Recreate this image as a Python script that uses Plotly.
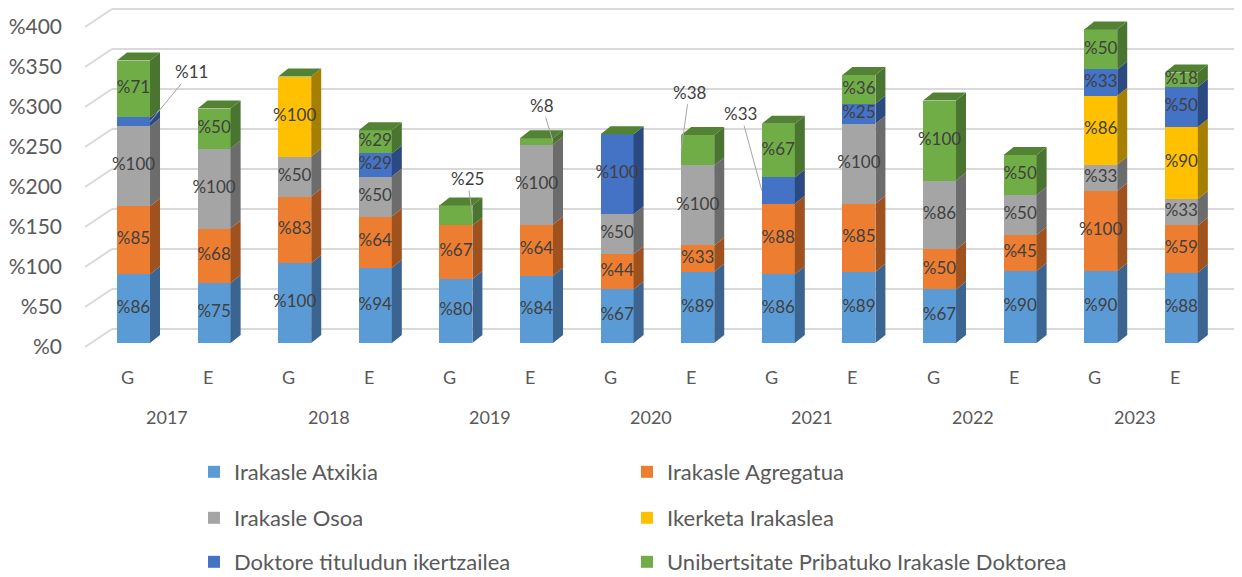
import plotly.graph_objects as go

# ---------------- data ----------------
years = ["2017", "2018", "2019", "2020", "2021", "2022", "2023"]
groups = ["G", "E"] * 7
series_names = [
    "Irakasle Atxikia",
    "Irakasle Agregatua",
    "Irakasle Osoa",
    "Ikerketa Irakaslea",
    "Doktore tituludun ikertzailea",
    "Unibertsitate Pribatuko Irakasle Doktorea",
]
atxikia = [86, 75, 100, 94, 80, 84, 67, 89, 86, 89, 67, 90, 90, 88]
agregatua = [85, 68, 83, 64, 67, 64, 44, 33, 88, 85, 50, 45, 100, 59]
osoa = [100, 100, 50, 50, 0, 100, 50, 100, 0, 100, 86, 50, 33, 33]
ikerketa = [0, 0, 100, 0, 0, 0, 0, 0, 0, 0, 0, 0, 86, 90]
doktore = [11, 0, 0, 29, 0, 0, 100, 0, 33, 25, 0, 0, 33, 50]
pribatua = [71, 50, 0, 29, 25, 8, 0, 38, 67, 36, 100, 50, 50, 18]
series_values = [atxikia, agregatua, osoa, ikerketa, doktore, pribatua]
y_ticks = [0, 50, 100, 150, 200, 250, 300, 350, 400]

# ---------------- styles ----------------
front_colors = ["#5B9BD5", "#ED7D31", "#A5A5A5", "#FFC000", "#4472C4", "#70AD47"]
side_colors = ["#3B6590", "#A0521E", "#6C6C6C", "#A67E00", "#2C4A82", "#4A7530"]
top_color = "#548235"
text_color = "#404040"
axis_text = "#595959"
grid_color = "#D9D9D9"
FONT = "Lato, 'Open Sans', sans-serif"

W, H = 1234, 569          # page body has an 8px margin
ML, MB = 77, 227
PLOT_W = W - ML

BAR_W = 0.41      # bar width in category units
DX = 0.124        # 3D depth offset (x units)
DY = 10.0         # 3D depth offset (bar-axis units)
BACK = 22.5       # back wall offset (label-axis units)
# one legend per entry: 2 columns x 3 rows (x px, y px in figure)
legend_ids = ["legend", "legend2", "legend3", "legend4", "legend5", "legend6"]
legend_cols = [186, 619]
legend_rows = [464, 510, 554]
# labels placed outside with a leader line: (bar index, series index, edge, ax, ay)
outside = [
    (0, 4, "R", 41, -50),
    (4, 5, "R", -5, -37),
    (5, 5, "R", -11, -36),
    (7, 5, "L", 8, -58),
    (8, 4, "L", -21, -77),
]
outside_keys = {(b, s) for b, s, *_ in outside}

n = len(groups)
pos = list(range(n))

fig = go.Figure()

# front faces (stacked bars)
for s, (name, vals) in enumerate(zip(series_names, series_values)):
    fig.add_trace(go.Bar(
        x=pos, y=vals, name=name, width=BAR_W, yaxis="y2",
        marker=dict(color=front_colors[s], line=dict(width=0)),
        legend=legend_ids[s], hoverinfo="skip",
    ))

# cumulative bases
bases = []
cum = [0] * n
for vals in series_values:
    bases.append(cum[:])
    cum = [c + v for c, v in zip(cum, vals)]
totals = cum

# side faces
for s, vals in enumerate(series_values):
    xs, ys = [], []
    for i, v in enumerate(vals):
        if v <= 0:
            continue
        b = bases[s][i]
        t = b + v
        xr = pos[i] + BAR_W / 2
        xs += [xr, xr + DX, xr + DX, xr, xr, None]
        ys += [b, b + DY, t + DY, t, b, None]
    fig.add_trace(go.Scatter(
        x=xs, y=ys, yaxis="y2", mode="lines", fill="toself",
        fillcolor=side_colors[s], line=dict(width=0, color=side_colors[s]),
        showlegend=False, hoverinfo="skip",
    ))

# top faces
xs, ys = [], []
for i in range(n):
    xl = pos[i] - BAR_W / 2
    xr = pos[i] + BAR_W / 2
    T = totals[i]
    xs += [xl, xl + DX, xr + DX, xr, xl, None]
    ys += [T, T + DY, T + DY, T, T, None]
fig.add_trace(go.Scatter(
    x=xs, y=ys, yaxis="y2", mode="lines", fill="toself",
    fillcolor=top_color, line=dict(width=0, color=top_color),
    showlegend=False, hoverinfo="skip",
))

# data labels inside segments (drawn above the 3D faces)
lx, ly, lt = [], [], []
for s, vals in enumerate(series_values):
    for i, v in enumerate(vals):
        if v > 0 and (i, s) not in outside_keys:
            lx.append(pos[i])
            ly.append(bases[s][i] + v / 2)
            lt.append("%" + str(v))
fig.add_trace(go.Scatter(
    x=lx, y=ly, text=lt, mode="text", yaxis="y2", textposition="middle center",
    textfont=dict(family=FONT, size=17, color=text_color),
    showlegend=False, hoverinfo="skip", cliponaxis=False,
))

# back-wall gridlines
shapes = []
wall_x = 27 / PLOT_W
for v in y_ticks:
    shapes.append(dict(type="line", xref="paper", yref="y", x0=0, x1=wall_x,
                       y0=v, y1=v + BACK, line=dict(color=grid_color, width=2),
                       layer="below"))
    shapes.append(dict(type="line", xref="paper", yref="y", x0=wall_x, x1=1,
                       y0=v + BACK, y1=v + BACK, line=dict(color=grid_color, width=2),
                       layer="below"))

annotations = []
# outside labels with leader lines
for b, s, edge, ax, ay in outside:
    v = series_values[s][b]
    yc = bases[s][b] + v / 2
    xa = pos[b] + (BAR_W / 2 if edge == "R" else -BAR_W / 2)
    annotations.append(dict(
        x=xa, y=yc, xref="x", yref="y2", text="%" + str(v),
        showarrow=True, arrowhead=0, arrowwidth=1, arrowcolor="#A6A6A6",
        ax=ax, ay=ay, standoff=0,
        font=dict(family=FONT, size=17, color=text_color),
    ))
# category labels
for i, g in enumerate(groups):
    annotations.append(dict(
        x=pos[i], y=0, xref="x", yref="paper", text=g, showarrow=False,
        xshift=-6.5, yshift=-27, yanchor="middle",
        font=dict(family=FONT, size=18, color=axis_text),
    ))
for k, yr in enumerate(years):
    annotations.append(dict(
        x=pos[2 * k] + 0.5, y=0, xref="x", yref="paper", text=yr, showarrow=False,
        xshift=-6.5, yshift=-67, yanchor="middle",
        font=dict(family=FONT, size=18, color=axis_text),
    ))

legends = {}
for s, lid in enumerate(legend_ids):
    legends[lid] = dict(
        orientation="h", xanchor="left", yanchor="middle",
        xref="container", yref="container",
        x=legend_cols[s % 2] / W, y=1 - legend_rows[s // 2] / H,
        bgcolor="rgba(0,0,0,0)",
        font=dict(family=FONT, size=22, color=axis_text),
    )

fig.update_layout(
    width=W, height=H, autosize=False,
    margin=dict(l=ML, r=0, t=0, b=MB, pad=0, autoexpand=False),
    paper_bgcolor="white", plot_bgcolor="white",
    barmode="stack", bargap=0,
    xaxis=dict(range=[-0.6017, 13.753], showgrid=False, zeroline=False,
               showticklabels=False, showline=False, fixedrange=True),
    yaxis=dict(range=[-3.75, 423.75], showgrid=False, zeroline=False,
               tickvals=y_ticks, ticktext=["%" + str(v) for v in y_ticks],
               tickfont=dict(family=FONT, size=21, color=axis_text),
               ticklabelstandoff=22, showline=False, fixedrange=True),
    yaxis2=dict(range=[-8.75, 418.75], overlaying="y", visible=False,
                fixedrange=True),
    shapes=shapes,
    annotations=annotations,
    showlegend=True,
    **legends,
)

fig.write_html("out.html")
